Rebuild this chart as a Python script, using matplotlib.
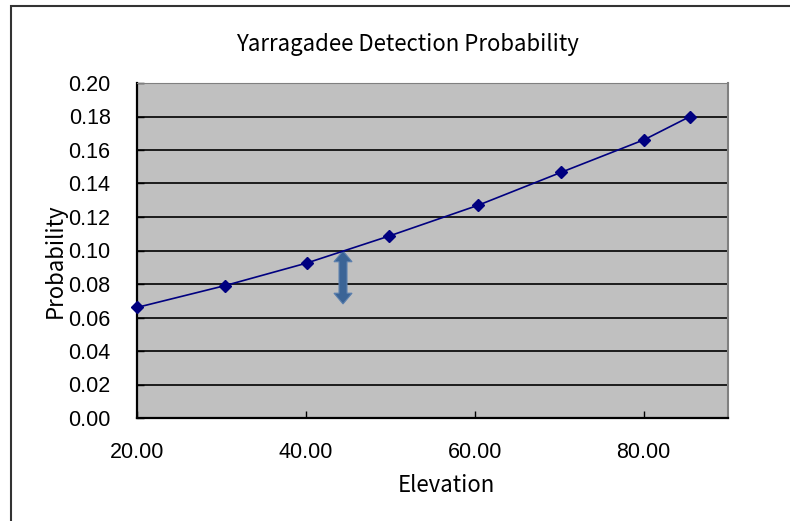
import numpy as np
import matplotlib
matplotlib.use('Agg')
import matplotlib.pyplot as plt
from matplotlib.patches import Rectangle, Polygon

# datos
elevation = [20.0, 30.4, 40.1, 49.9, 60.4, 70.2, 80.1, 85.5]
probability = [0.066, 0.079, 0.0925, 0.1087, 0.127, 0.1466, 0.1662, 0.180]
arrow_x = 44.4
arrow_y = [0.0681, 0.0997]
yticks = [0.00, 0.02, 0.04, 0.06, 0.08, 0.10, 0.12, 0.14, 0.16, 0.18, 0.20]
xticks = [20, 40, 60, 80]

jp_font = ['Noto Sans CJK JP', 'DejaVu Sans']
num_font = ['Liberation Sans', 'DejaVu Sans']

fig = plt.figure(figsize=(7.9, 5.21), dpi=100)
ax = fig.add_axes([137/790, 1 - 418/521, 591/790, 335/521])

# marco exterior del grafico (sin borde derecho ni inferior visibles)
fig.patches.append(Rectangle((10.5/790, -0.05), 0.99, 1.05 - 6/521,
                             transform=fig.transFigure, fill=False,
                             edgecolor='#333333', linewidth=1.5))

ax.set_facecolor('#C0C0C0')
ax.set_xlim(20, 90)
ax.set_ylim(0, 0.20)
ax.set_yticks(yticks)
ax.set_xticks(xticks)
ax.set_yticklabels(['%.2f' % v for v in yticks], family=num_font, fontsize=15.5)
ax.set_xticklabels(['%.2f' % v for v in xticks], family=num_font, fontsize=15.5)
ax.tick_params(direction='in', length=5, width=1)
ax.tick_params(axis='y', pad=19)
ax.tick_params(axis='x', pad=17)
ax.grid(axis='y', color='black', linewidth=1.2)
ax.set_axisbelow(True)

ax.spines['left'].set_color('black')
ax.spines['bottom'].set_color('black')
ax.spines['left'].set_linewidth(1.6)
ax.spines['bottom'].set_linewidth(1.6)
ax.spines['top'].set_color('#808080')
ax.spines['right'].set_color('#808080')
ax.spines['right'].set_linewidth(1.5)

ax.plot(elevation, probability, color='#000080', linewidth=1.2,
        marker='D', markersize=6.5, clip_on=False, zorder=5)

# flecha doble
hw, sw, hl = 1.07, 0.47, 0.0064
y0, y1 = arrow_y
verts = [(arrow_x, y1), (arrow_x + hw, y1 - hl), (arrow_x + sw, y1 - hl),
         (arrow_x + sw, y0 + hl), (arrow_x + hw, y0 + hl), (arrow_x, y0),
         (arrow_x - hw, y0 + hl), (arrow_x - sw, y0 + hl),
         (arrow_x - sw, y1 - hl), (arrow_x - hw, y1 - hl)]
ax.add_patch(Polygon(verts, closed=True, facecolor='#3B6496',
                     edgecolor='#5A7FAE', linewidth=0.8, zorder=4))

fig.text(407/790, 1 - 45/521, 'Yarragadee Detection Probability',
         family=jp_font, fontsize=16, ha='center', va='center')
ax.set_xlabel('Elevation', family=jp_font, fontsize=16)
ax.xaxis.set_label_coords((446 - 137)/591, (418 - 486)/335)
ax.xaxis.label.set_va('center')
ax.set_ylabel('Probability', family=jp_font, fontsize=16)
ax.yaxis.set_label_coords((55 - 137)/591, (418 - 261)/335)
ax.yaxis.label.set_va('center')

fig.savefig('out.png', dpi=100)
